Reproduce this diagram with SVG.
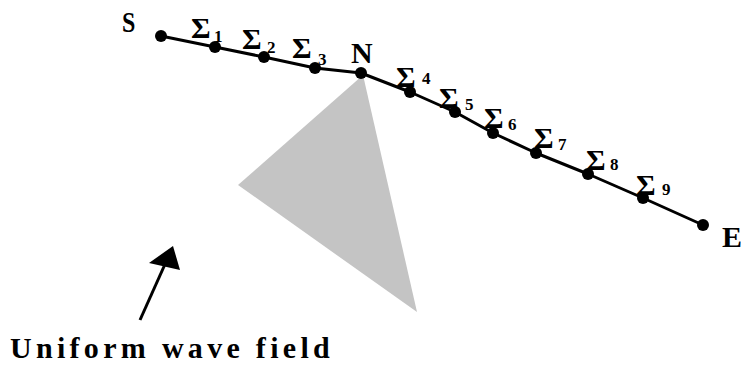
<svg xmlns="http://www.w3.org/2000/svg" width="741" height="365" viewBox="0 0 741 365">
<style>
.t{font-family:"Liberation Serif","Times New Roman",serif;font-weight:bold;fill:#000}
.big{font-size:30px}
.sub{font-size:17px}
.dot{fill:#000}
.ln{fill:none;stroke:#000;stroke-width:3;stroke-linejoin:round}
</style>
<rect width="741" height="365" fill="#fff"/>
<g id="cone">
<polygon points="363,75 238,185 417,312" fill="#c4c4c4"/>
</g>
<g id="connectors">
<polyline class="ln" points="161,36 215,47 264,57 315,68 361,73 410,92 455,112 493,133 536,153 588,174 643,198 703,225"/>
<line x1="140" y1="320" x2="166" y2="262" stroke="#000" stroke-width="3"/>
<polygon points="173,246 149,263 180,270" fill="#000"/>
</g>
<g id="S"><circle class="dot" cx="161" cy="36" r="6"/><text class="t big" x="122" y="32" transform="translate(122 0) scale(0.8 1) translate(-122 0)">S</text></g>
<g id="s1"><circle class="dot" cx="215" cy="47" r="6"/><text class="t big" x="191" y="38">Σ</text><text class="t sub" x="214" y="42">1</text></g>
<g id="s2"><circle class="dot" cx="264" cy="57" r="6"/><text class="t big" x="242" y="49">Σ</text><text class="t sub" x="267" y="53">2</text></g>
<g id="s3"><circle class="dot" cx="315" cy="68" r="6"/><text class="t big" x="292" y="58">Σ</text><text class="t sub" x="318" y="65">3</text></g>
<g id="N"><circle class="dot" cx="361" cy="73" r="6"/><text class="t big" x="351" y="63">N</text></g>
<g id="s4"><circle class="dot" cx="410" cy="92" r="6"/><text class="t big" x="396" y="87">Σ</text><text class="t sub" x="422" y="84">4</text></g>
<g id="s5"><circle class="dot" cx="455" cy="112" r="6"/><text class="t big" x="439" y="108">Σ</text><text class="t sub" x="465" y="110">5</text></g>
<g id="s6"><circle class="dot" cx="493" cy="133" r="6"/><text class="t big" x="484" y="128">Σ</text><text class="t sub" x="508" y="130">6</text></g>
<g id="s7"><circle class="dot" cx="536" cy="153" r="6"/><text class="t big" x="534" y="148">Σ</text><text class="t sub" x="558" y="150">7</text></g>
<g id="s8"><circle class="dot" cx="588" cy="174" r="6"/><text class="t big" x="586" y="170">Σ</text><text class="t sub" x="610" y="170">8</text></g>
<g id="s9"><circle class="dot" cx="643" cy="198" r="6"/><text class="t big" x="636" y="195">Σ</text><text class="t sub" x="662" y="195">9</text></g>
<g id="E"><circle class="dot" cx="703" cy="225" r="6"/><text class="t big" x="722" y="247">E</text></g>
<g id="label"><text class="t" font-size="30" letter-spacing="4.3" x="10" y="358">Uniform wave field</text></g>
</svg>
